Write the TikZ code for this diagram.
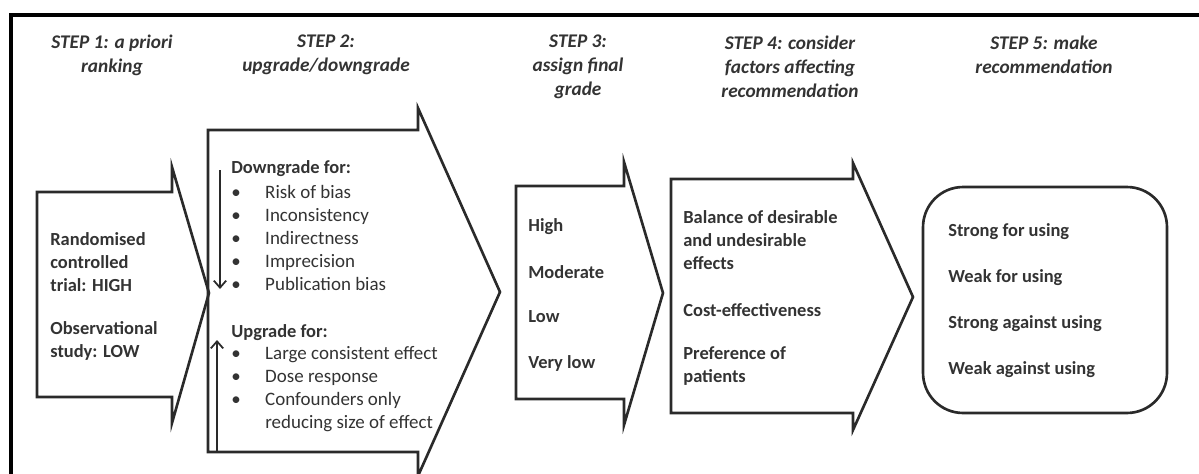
\documentclass[tikz,border=0pt]{standalone}
\usepackage{fontspec}
\setmainfont{Carlito}
\usetikzlibrary{arrows.meta}
\definecolor{inkgray}{HTML}{333333}
\definecolor{linegray}{HTML}{2A2A2A}
\def\bulitem{\makebox[19.3pt][l]{\textbullet}}
\begin{document}
\begin{tikzpicture}[
      x=0.02cm, y=-0.02cm,
      chevron/.style={draw=linegray, line width=1.5pt, line join=miter},
      heading/.style={font=\fontsize{11}{13.6}\selectfont\bfseries\itshape, align=center, text=inkgray, inner sep=0pt},
      boldtext/.style={font=\fontsize{10.5}{13.1}\selectfont\bfseries, align=left, anchor=west, text=inkgray, inner sep=0pt},
      listtext/.style={font=\fontsize{10.8}{13.1}\selectfont, align=left, anchor=west, text=inkgray, inner sep=0pt},
      updown/.style={draw=linegray, line width=1pt, -{Straight Barb[length=4pt,width=7pt]}}
      ]
      
      \path[use as bounding box] (0,0) rectangle (1199,473);
      \clip (0,0) rectangle (1199,473);
      % Le cadre sort de l'image a droite et en bas.
      \draw[line width=1.9pt, black] (11,15) rectangle (1260,540);
      
      \node[heading] (head1) at (112,55) {STEP 1: a priori\\ranking};
      \node[heading] (head2) at (326,55) {STEP 2:\\upgrade/downgrade};
      \node[heading] (head3) at (578,67) {STEP 3:\\assign final\\grade};
      \node[heading] (head4) at (790,67) {STEP 4: consider\\factors affecting\\recommendation};
      \node[heading] (head5) at (1044,55) {STEP 5: make\\recommendation};
      
      % step 1
      \draw[chevron] (37,192) -- (172,192) -- (172,167) -- (209,293) -- (172,423) -- (172,397) -- (37,397) -- cycle;
      \node[boldtext] (rct) at (50,262) {Randomised\\controlled\\trial: HIGH};
      \node[boldtext] (obs) at (50,341) {Observational\\study: LOW};
      
      % step 2
      \draw[chevron] (208,130) -- (418,130) -- (418,108) -- (500,292) -- (418,476) -- (418,452) -- (208,452) -- cycle;
      \node[boldtext] (downgrade) at (231,169) {Downgrade for:};
      \node[listtext] (downlist) at (231,238) {\bulitem Risk of bias\\\bulitem Inconsistency\\\bulitem Indirectness\\\bulitem Imprecision\\\bulitem Publication bias};
      \node[boldtext] (upgrade) at (231,333) {Upgrade for:};
      \node[listtext] (uplist) at (231,389) {\bulitem Large consistent effect\\\bulitem Dose response\\\bulitem Confounders only\\\hspace*{19.3pt}reducing size of effect};
      \coordinate (down-from) at (220,170);
      \coordinate (down-to) at (220,289);
      \coordinate (up-from) at (217,452);
      \coordinate (up-to) at (217,340);
      \path[updown] (down-from) -- (down-to);
      \path[updown] (up-from) -- (up-to);
      
      % step 3
      \draw[chevron] (516,186) -- (624,186) -- (624,162) -- (663,293) -- (624,425) -- (624,399) -- (516,399) -- cycle;
      \node[boldtext] (high) at (528,227) {High};
      \node[boldtext] (moderate) at (528,272) {Moderate};
      \node[boldtext] (low) at (528,317) {Low};
      \node[boldtext] (verylow) at (528,363) {Very low};
      
      % step 4
      \draw[chevron] (671,179) -- (853,179) -- (853,163) -- (913,297) -- (853,430) -- (853,413) -- (671,413) -- cycle;
      \node[boldtext] (balance) at (683,240) {Balance of desirable\\and undesirable\\effects};
      \node[boldtext] (cost) at (683,310) {Cost-effectiveness};
      \node[boldtext] (prefs) at (683,366) {Preference of\\patients};
      
      % step 5
      \node[draw=linegray, line width=1.5pt, rounded corners=0.8cm, minimum width=4.88cm, minimum height=4.52cm] (reco) at (1045,300) {};
      \node[boldtext] (strongfor) at (948,232) {Strong for using};
      \node[boldtext] (weakfor) at (948,278) {Weak for using};
      \node[boldtext] (strongagainst) at (948,324) {Strong against using};
      \node[boldtext] (weakagainst) at (948,370) {Weak against using};
    \end{tikzpicture}
\end{document}
